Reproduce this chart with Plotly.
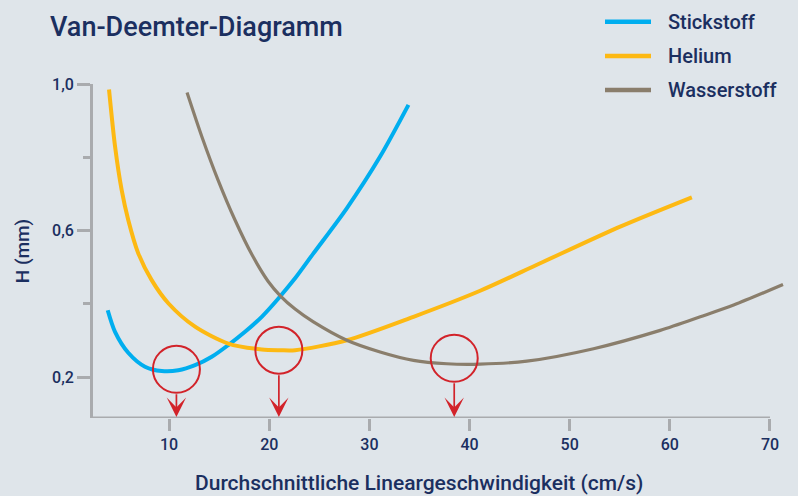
import plotly.graph_objects as go

# ---- data ----
speed_n2 = [3.87, 4.6, 5.92, 7.59, 9.26, 10.92, 12.59, 14.26, 15.91, 17.58, 19.25, 20.91, 22.58, 24.41, 27.74, 31.07, 33.9]
h_n2 = [0.383, 0.324, 0.267, 0.229, 0.217, 0.219, 0.233, 0.256, 0.288, 0.324, 0.365, 0.415, 0.470, 0.538, 0.661, 0.802, 0.943]

speed_he = [4.0, 4.6, 5.26, 5.92, 6.92, 8.26, 9.92, 12.59, 15.91, 19.25, 21.08, 22.58, 27.74, 34.4, 41.06, 47.05, 55.04, 62.2]
h_he = [0.985, 0.830, 0.711, 0.629, 0.538, 0.465, 0.402, 0.338, 0.292, 0.276, 0.274, 0.274, 0.301, 0.365, 0.436, 0.511, 0.611, 0.691]

speed_h2 = [11.79, 13.29, 14.89, 16.58, 18.28, 19.88, 21.08, 22.58, 24.41, 27.74, 31.07, 34.4, 37.73, 41.06, 45.72, 52.38, 59.04, 63.04, 66.37, 71.3]
h_h2 = [0.977, 0.855, 0.738, 0.629, 0.534, 0.462, 0.423, 0.386, 0.351, 0.301, 0.269, 0.246, 0.237, 0.236, 0.244, 0.278, 0.328, 0.365, 0.397, 0.453]

optimum_speed = [10.73, 20.96, 38.47]
optimum_h = [0.222, 0.274, 0.252]

series_names = ["Stickstoff", "Helium", "Wasserstoff"]
series_colors = ["#00aeef", "#fdb913", "#8a7e6c"]
series_widths = [4, 4, 3.2]

x_tickvals = [10, 20, 30, 40, 50, 60, 70]
x_ticktext = ["10", "20", "30", "40", "50", "60", "70"]
y_tickvals = [0.2, 0.6, 1.0]
y_ticktext = ["0,2", "0,6", "1,0"]
y_minor = [0.4, 0.8]

X_RANGE = [2.4, 71.6]
Y_RANGE = [0.089, 1.0]
X_AXIS_END = 70

NAVY = "#1b2f60"
AXIS_GREY = "#a9abae"
RED = "#d2232a"
BG = "#dfe5ea"
FONT = "Roboto"

W, H = 798, 496
ML, MR, MT, MB = 93, 12, 84, 78

fig = go.Figure()

for sx, sy, name, col, lw in zip([speed_n2, speed_he, speed_h2], [h_n2, h_he, h_h2],
                                 series_names, series_colors, series_widths):
    fig.add_trace(go.Scatter(x=sx, y=sy, mode="lines", name=name,
                             line=dict(color=col, width=lw, shape="spline", smoothing=0.8),
                             showlegend=False, hoverinfo="skip"))

# red circles marking the optima
fig.add_trace(go.Scatter(x=optimum_speed, y=optimum_h, mode="markers",
                         marker=dict(symbol="circle-open", size=47, color=RED,
                                     line=dict(color=RED, width=2)),
                         showlegend=False, hoverinfo="skip", cliponaxis=False))

annotations = []
for u, h in zip(optimum_speed, optimum_h):
    annotations.append(dict(x=u, y=Y_RANGE[0], xref="x", yref="y",
                            ax=u, ay=h, axref="x", ayref="y",
                            text="", showarrow=True, arrowhead=3, arrowsize=1.9,
                            arrowwidth=1.7, arrowcolor=RED, startstandoff=23.5, standoff=1))

# x-axis line (ends at 70)
shapes = [dict(type="line", xref="x", yref="y", x0=X_RANGE[0], x1=X_AXIS_END,
               y0=Y_RANGE[0], y1=Y_RANGE[0], line=dict(color=AXIS_GREY, width=3), layer="below")]

def px2paper(px, py):
    return (px - ML) / (W - ML - MR), (H - MB - py) / (H - MT - MB)

# manual legend
legend_rows_y = [21.7, 56, 90]
for name, col, ry in zip(series_names, series_colors, legend_rows_y):
    x0, y0 = px2paper(605, ry)
    x1, _ = px2paper(651, ry)
    shapes.append(dict(type="line", xref="paper", yref="paper", x0=x0, x1=x1, y0=y0, y1=y0,
                       line=dict(color=col, width=4.5)))
    tx, ty = px2paper(666, ry)
    annotations.append(dict(x=tx, y=ty, xref="paper", yref="paper", xanchor="left", yanchor="middle",
                            text=name, showarrow=False,
                            font=dict(family=FONT, size=20, color=NAVY, weight=500)))

# x-axis title
tx, ty = px2paper(419, 483)
annotations.append(dict(x=tx, y=ty, xref="paper", yref="paper", xanchor="center", yanchor="middle",
                        text="Durchschnittliche Lineargeschwindigkeit (cm/s)", showarrow=False,
                        font=dict(family=FONT, size=21, color=NAVY, weight=500)))

fig.update_layout(
    width=W, height=H,
    margin=dict(l=ML, r=MR, t=MT, b=MB),
    paper_bgcolor=BG, plot_bgcolor="rgba(0,0,0,0)",
    title=dict(text="Van-Deemter-Diagramm", xref="container", yref="container",
               x=50 / W, y=1 - 27 / H, xanchor="left", yanchor="middle",
               font=dict(family=FONT, size=27, color=NAVY, weight=500)),
    xaxis=dict(range=X_RANGE, showgrid=False, zeroline=False, showline=False,
               tickvals=x_tickvals, ticktext=x_ticktext, ticks="outside", ticklen=12,
               tickwidth=3, tickcolor=AXIS_GREY,
               tickfont=dict(family=FONT, size=16, color=NAVY, weight=500)),
    yaxis=dict(range=Y_RANGE, showgrid=False, zeroline=False, showline=True,
               linecolor=AXIS_GREY, linewidth=3,
               tickvals=y_tickvals, ticktext=y_ticktext, ticks="outside", ticklen=13,
               tickwidth=3, tickcolor=AXIS_GREY,
               minor=dict(tickvals=y_minor, ticks="outside", ticklen=7, tickwidth=3, tickcolor=AXIS_GREY),
               tickfont=dict(family=FONT, size=16, color=NAVY, weight=500),
               title=dict(text="H (mm)", standoff=18,
                          font=dict(family=FONT, size=19, color=NAVY, weight=500))),
    shapes=shapes,
    annotations=annotations,
)

fig.write_html("out.html", config={"displayModeBar": False},
               post_script="document.body.style.margin='0';document.body.style.padding='0';")
